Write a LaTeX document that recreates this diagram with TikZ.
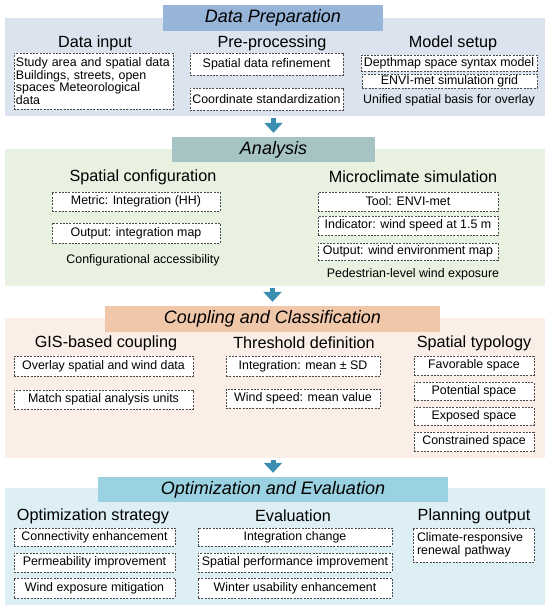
\documentclass[tikz,border=0pt]{standalone}
\usepackage{fontspec}
\setmainfont{Liberation Sans}
\usetikzlibrary{arrows.meta}
\definecolor{pOneBg}{RGB}{218,227,238}
\definecolor{pOneBn}{RGB}{150,181,216}
\definecolor{pTwoBg}{RGB}{233,241,225}
\definecolor{pTwoBn}{RGB}{166,196,196}
\definecolor{pThrBg}{RGB}{250,238,231}
\definecolor{pThrBn}{RGB}{241,199,170}
\definecolor{pFouBg}{RGB}{221,238,245}
\definecolor{pFouBn}{RGB}{155,210,225}
\definecolor{arrC}{RGB}{58,142,178}
\definecolor{dashC}{RGB}{75,75,75}
\tikzset{
  panel/.style={draw=none, inner sep=0pt, anchor=north west},
  banner/.style={draw=none, inner sep=0pt, font=\fontsize{18}{20}\selectfont\itshape},
  coltitle/.style={inner sep=0pt, font=\fontsize{16.2}{18}\selectfont},
  itembox/.style={draw=dashC, fill=white, line width=0.8pt, dash pattern=on 2pt off 1.3pt,
    inner sep=0pt, font=\fontsize{12.4}{12.7}\selectfont, align=center},
  note/.style={inner sep=0pt, font=\fontsize{12.4}{12.7}\selectfont},
  flowarrow/.style={draw=arrC, line width=5pt, -{Triangle[width=18pt,length=10pt]},
    shorten <=1.5pt, shorten >=4pt}
}
\newcommand{\bx}[7]{% name, x1, y1, x2, y2, extra, text
  \node[itembox, minimum width={#4-#2}, minimum height={#5-#3}, #6] (#1) at ({(#2+#4)/2},{(#3+#5)/2}) {#7};}
\begin{document}
\begin{tikzpicture}[x=1pt,y=-1pt]
\useasboundingbox[fill=white] (0,0) rectangle (550,611);
% ---------- Panel 1
\node[panel, fill=pOneBg, minimum width=540pt, minimum height=98pt] (p1) at (5,18) {};
\node[banner, fill=pOneBn, minimum width=220pt, minimum height=26pt] (b1) at (273,18) {Data Preparation};
\node[coltitle] (t11) at (95,43) {Data input};
\node[coltitle] (t12) at (272,43) {Pre-processing};
\node[coltitle] (t13) at (453,43) {Model setup};
\bx{d1}{14}{53}{173}{109}{align=left, text width=155pt}{Study area and spatial data\\Buildings, streets, open\\spaces Meteorological\\data}
\bx{d2}{190}{53}{343}{75}{}{Spatial data refinement}
\bx{d3}{190}{88}{343}{110}{}{Coordinate standardization}
\bx{d4}{361}{55}{537}{71}{}{Depthmap space syntax model}
\bx{d5}{362}{74}{537}{88}{}{ENVI-met simulation grid}
\node[note] (d6) at (449,100) {Unified spatial basis for overlay};
% ---------- Panel 2
\node[panel, fill=pTwoBg, minimum width=540pt, minimum height=137pt] (p2) at (5,149) {};
\node[banner, fill=pTwoBn, minimum width=203pt, minimum height=25pt] (b2) at (273.5,149.5) {Analysis};
\node[coltitle] (t21) at (143,177) {Spatial configuration};
\node[coltitle] (t22) at (413,177) {Microclimate simulation};
\bx{a1}{52}{192}{220}{211}{}{Metric: Integration (HH)}
\bx{a2}{52}{223}{220}{243}{}{Output: integration map}
\node[note] (a3) at (143,260) {Configurational accessibility};
\bx{a4}{318}{192}{498}{211}{}{Tool: ENVI-met}
\bx{a5}{318}{216}{498}{235}{}{Indicator: wind speed at 1.5 m}
\bx{a6}{318}{243}{498}{260}{}{Output: wind environment map}
\node[note] (a7) at (413,274) {Pedestrian-level wind exposure};
% ---------- Panel 3
\node[panel, fill=pThrBg, minimum width=540pt, minimum height=140pt] (p3) at (5,318) {};
\node[banner, fill=pThrBn, minimum width=335pt, minimum height=26pt] (b3) at (272.5,319) {Coupling and Classification};
\node[coltitle] (t31) at (106,343) {GIS-based coupling};
\node[coltitle] (t32) at (304,343) {Threshold definition};
\node[coltitle] (t33) at (474,343) {Spatial typology};
\bx{c1}{14}{356}{193}{376}{}{Overlay spatial and wind data}
\bx{c2}{14}{390}{193}{409}{}{Match spatial analysis units}
\bx{c3}{226}{356}{380}{376}{}{Integration: mean ± SD}
\bx{c4}{226}{389}{380}{408}{}{Wind speed: mean value}
\bx{c5}{414}{356}{534}{375}{}{Favorable space}
\bx{c6}{414}{382}{534}{400}{}{Potential space}
\bx{c7}{414}{407}{534}{425}{}{Exposed space}
\bx{c8}{414}{432}{534}{451}{}{Constrained space}
% ---------- Panel 4
\node[panel, fill=pFouBg, minimum width=540pt, minimum height=117pt] (p4) at (5,488) {};
\node[banner, fill=pFouBn, minimum width=350pt, minimum height=25pt] (b4) at (273,489.5) {Optimization and Evaluation};
\node[coltitle] (t41) at (93,516) {Optimization strategy};
\node[coltitle] (t42) at (293,516) {Evaluation};
\node[coltitle] (t43) at (474,516) {Planning output};
\bx{o1}{14}{528}{175}{546}{}{Connectivity enhancement}
\bx{o2}{14}{553}{175}{572}{}{Permeability improvement}
\bx{o3}{14}{578}{175}{598}{}{Wind exposure mitigation}
\bx{o4}{198}{528}{392}{546}{}{Integration change}
\bx{o5}{198}{553}{392}{572}{}{Spatial performance improvement}
\bx{o6}{198}{578}{392}{598}{}{Winter usability enhancement}
\bx{o7}{413}{528}{534}{562}{align=left, text width=113pt}{Climate-responsive\\renewal pathway}
% ---------- Arrows
\draw[flowarrow] (p1.south -| b2.north) -- (b2.north);
\draw[flowarrow] (p2.south -| b3.north) -- (b3.north);
\draw[flowarrow] (p3.south -| b4.north) -- (b4.north);
\end{tikzpicture}
\end{document}
